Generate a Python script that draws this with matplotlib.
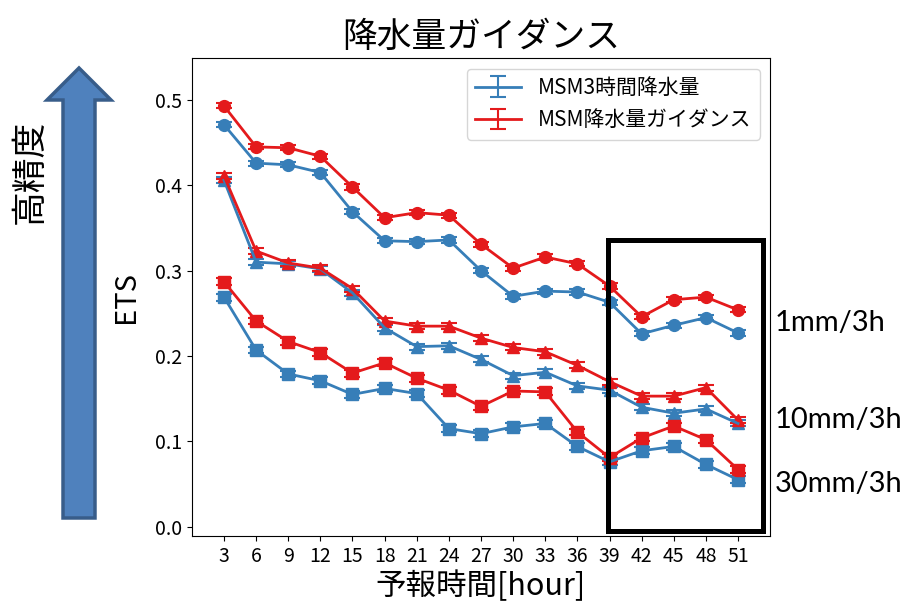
import numpy as np
import matplotlib
matplotlib.use("Agg")
import matplotlib.pyplot as plt
from matplotlib.patches import Rectangle, FancyArrow

plt.rcParams['font.family'] = ['Noto Sans CJK JP', 'DejaVu Sans']

hours = [3, 6, 9, 12, 15, 18, 21, 24, 27, 30, 33, 36, 39, 42, 45, 48, 51]

# ETS, MSM 3-hour precipitation (blue)
msm_1mm = [0.471, 0.426, 0.424, 0.415, 0.369, 0.335, 0.334, 0.336, 0.300,
           0.270, 0.276, 0.275, 0.263, 0.226, 0.236, 0.245, 0.227]
msm_10mm = [0.406, 0.310, 0.308, 0.302, 0.274, 0.233, 0.211, 0.212, 0.196,
            0.177, 0.181, 0.165, 0.160, 0.140, 0.133, 0.138, 0.121]
msm_30mm = [0.269, 0.207, 0.179, 0.171, 0.155, 0.162, 0.156, 0.115, 0.109,
            0.117, 0.121, 0.094, 0.076, 0.089, 0.094, 0.073, 0.055]

# ETS, MSM precipitation guidance (red)
gd_1mm = [0.493, 0.445, 0.444, 0.434, 0.398, 0.362, 0.368, 0.365, 0.331,
          0.303, 0.316, 0.308, 0.282, 0.246, 0.266, 0.269, 0.254]
gd_10mm = [0.411, 0.323, 0.309, 0.303, 0.279, 0.241, 0.235, 0.235, 0.221,
           0.210, 0.205, 0.189, 0.170, 0.153, 0.153, 0.163, 0.125]
gd_30mm = [0.287, 0.241, 0.217, 0.204, 0.180, 0.192, 0.174, 0.160, 0.141,
           0.159, 0.158, 0.111, 0.081, 0.104, 0.118, 0.102, 0.067]

# error bar half widths
err_1mm = [0.003] * 17
err_10mm = [0.0035] * 17
err_30mm = [0.004] * 17

thresholds = ['1mm/3h', '10mm/3h', '30mm/3h']
markers = ['o', '^', 's']
blue = '#377eb8'
red = '#e41a1c'

fig = plt.figure(figsize=(9.05, 6.12), dpi=100)
ax = fig.add_axes([0.212, 0.124, 0.639, 0.781])

series = [(msm_1mm, gd_1mm, err_1mm), (msm_10mm, gd_10mm, err_10mm),
          (msm_30mm, gd_30mm, err_30mm)]
for i, (b, r, e) in enumerate(series):
    for vals, col, lab in [(b, blue, 'MSM3時間降水量'), (r, red, 'MSM降水量ガイダンス')]:
        ax.errorbar(hours, vals, yerr=e, fmt='-', color=col, lw=2, capsize=6,
                    elinewidth=1.5, capthick=1.5, label=lab if i == 0 else None)
        ax.plot(hours, vals, linestyle='none', marker=markers[i], ms=8.5, color=col)

ax.set_xlim(0, 54)
ax.set_ylim(-0.011, 0.549)
ax.set_xticks(hours)
ax.set_yticks([0.0, 0.1, 0.2, 0.3, 0.4, 0.5])
ax.tick_params(labelsize=14)
ax.set_title('降水量ガイダンス', fontsize=25, pad=8)
ax.set_xlabel('予報時間[hour]', fontsize=22, labelpad=3)
ax.set_ylabel('ETS', fontsize=21, labelpad=10)
ax.legend(loc='upper right', fontsize=15, handlelength=2.2)

# highlight box for 39-51h
fig.add_artist(Rectangle((0.672, 0.132), 0.171, 0.476, fill=False, lw=3.6,
                         edgecolor='black', transform=fig.transFigure))

# threshold labels on the right
for lab, yp in zip(thresholds, [323, 420, 484]):
    fig.text(775 / 905, 1 - yp / 612, lab, fontsize=21, family='Lato', va='center')

# "higher accuracy" arrow
fig.add_artist(FancyArrow(79 / 905, 1 - 518 / 612, 0, (518 - 68) / 612, width=32 / 905,
                          head_width=64 / 905, head_length=32 / 612,
                          length_includes_head=True, facecolor='#4f81bd',
                          edgecolor='#385d8a', lw=2.5, transform=fig.transFigure))
fig.text(30 / 905, 1 - 172 / 612, '高精度', rotation=90, fontsize=25,
         ha='center', va='center')

fig.savefig('out.png', dpi=100)
